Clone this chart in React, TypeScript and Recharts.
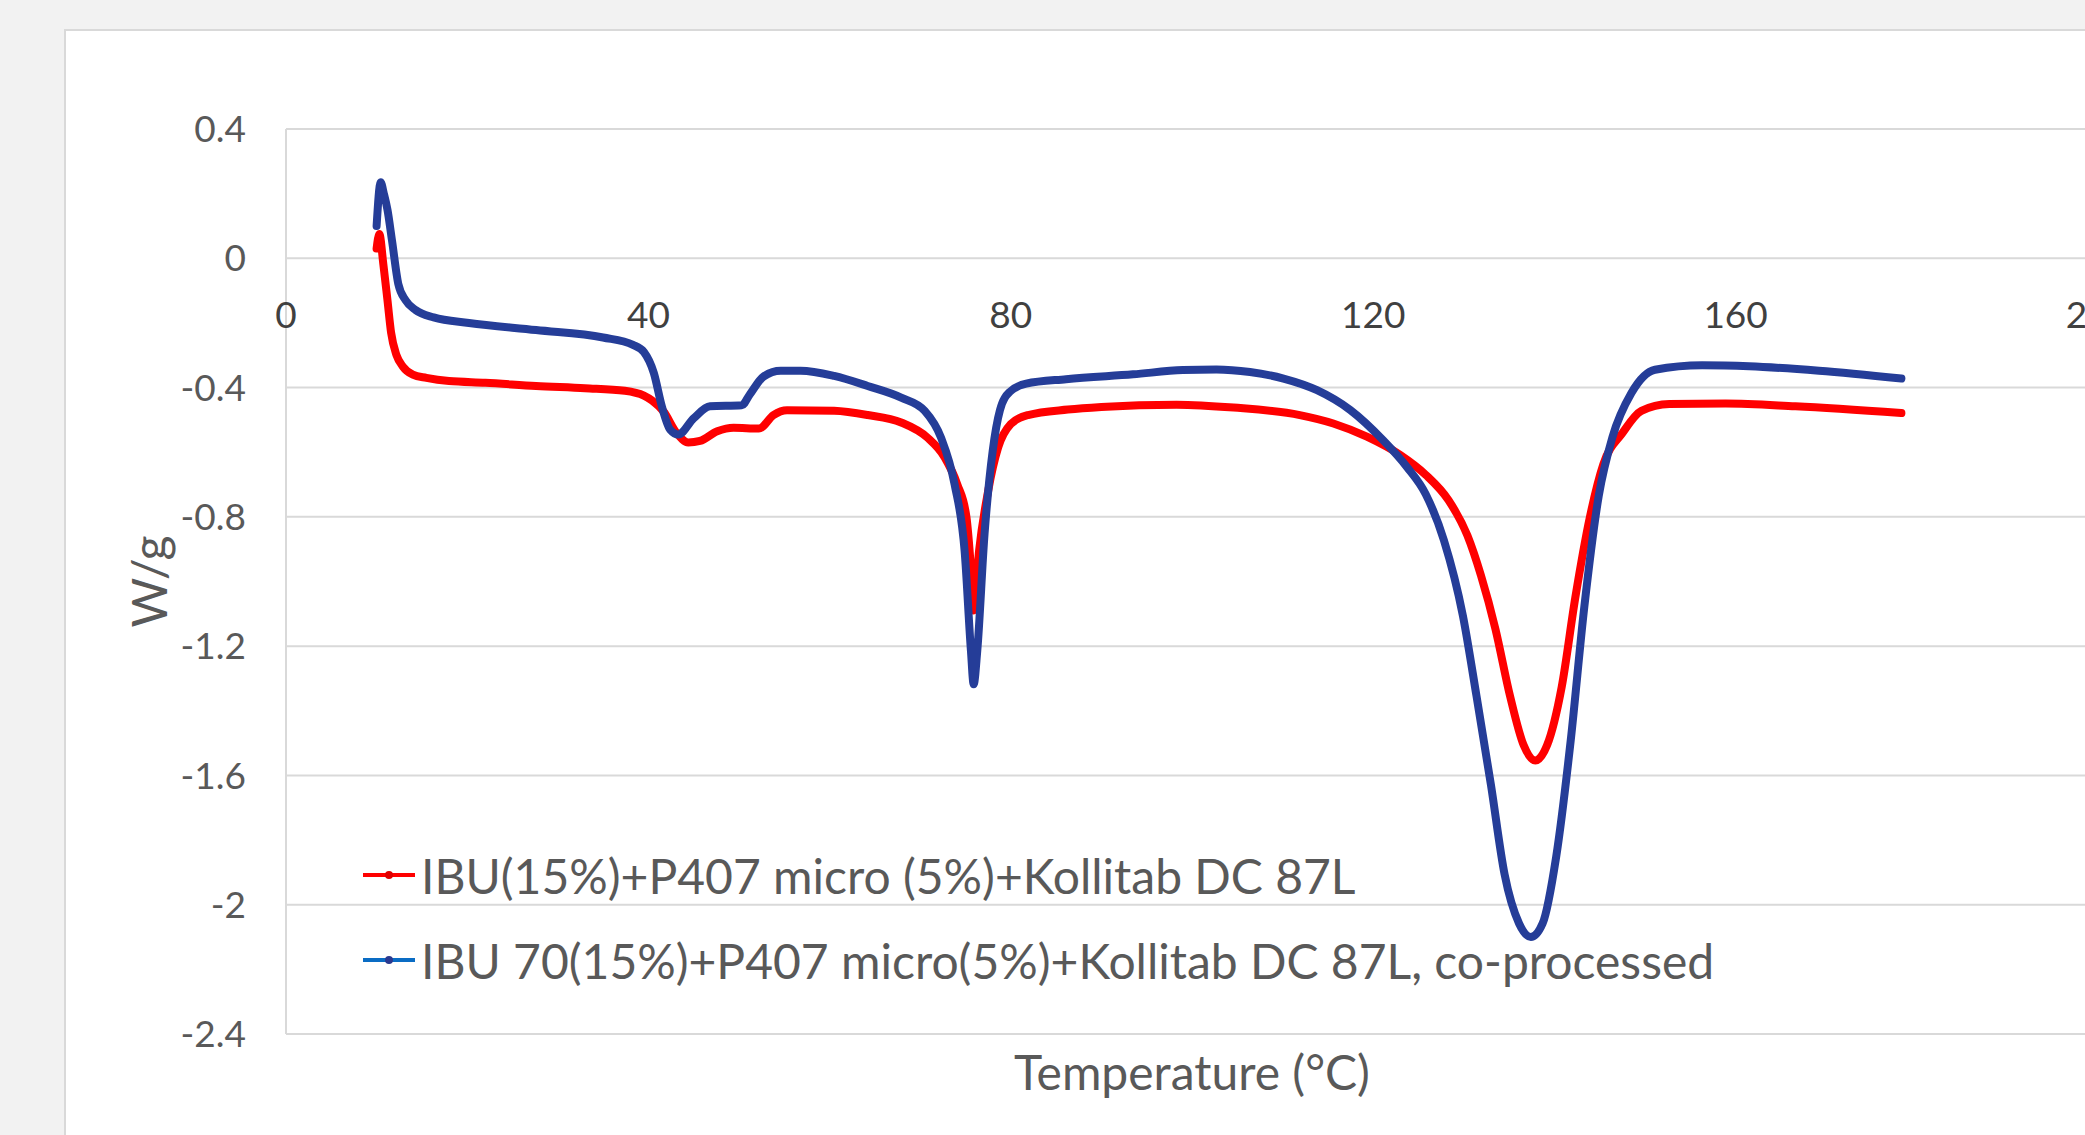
import React from "react";
import {
  LineChart,
  Line,
  XAxis,
  YAxis,
  CartesianGrid,
  ReferenceDot,
  Legend,
} from "recharts";

// DSC heat flow curves
const redTemp = [
  10.0, 10.3, 10.75, 11.2, 11.6, 12.2, 12.9, 14, 15.5, 18, 22, 27.6, 33, 37.4,
  39.5, 40.4, 41.7, 43.1, 44.4, 45.7, 47.6, 49.4, 52.2, 53.8, 55.3, 60.5, 64.2,
  67.9, 70.8, 72.7, 74.1, 75.1, 75.6, 75.9, 76.5, 77.5, 78.6, 80, 81.9, 86.3,
  90, 98.3, 104.6, 111.9, 115.6, 119.3, 123, 125.8, 128.3, 130.4, 131.9, 133.5,
  135.1, 136.6, 137.9, 139.2, 140.8, 142.3, 143.9, 145.4, 147.5, 149.6, 152.7,
  158.9, 166.6, 178.3,
];
const redFlow = [
  0.03, 0.075, -0.02, -0.13, -0.23, -0.3, -0.335, -0.36, -0.37, -0.38, -0.385,
  -0.395, -0.402, -0.41, -0.425, -0.44, -0.475, -0.54, -0.57, -0.565, -0.535,
  -0.524, -0.527, -0.485, -0.47, -0.472, -0.485, -0.508, -0.555, -0.616, -0.7,
  -0.8, -0.96, -1.09, -0.905, -0.72, -0.586, -0.513, -0.485, -0.468, -0.46,
  -0.453, -0.462, -0.485, -0.511, -0.552, -0.609, -0.67, -0.748, -0.858,
  -0.982, -1.148, -1.354, -1.506, -1.554, -1.506, -1.327, -1.051, -0.803,
  -0.637, -0.541, -0.472, -0.451, -0.449, -0.458, -0.479,
];

const blueTemp = [
  10.0, 10.45, 10.8, 11.2, 11.7, 12.4, 13.2, 14.3, 16.3, 20.2, 27.6, 35, 38.3,
  39.5, 40.6, 41.5, 42.4, 43.3, 45, 46.8, 50.3, 51.2, 52.7, 54.6, 56.8, 60.5,
  64.2, 67.9, 70.5, 72.3, 73.8, 74.9, 75.6, 75.9, 76.3, 77.1, 78, 78.8, 79.9,
  81.7, 86.1, 93.5, 99, 102.7, 106.4, 110.1, 113.8, 117.5, 121.1, 123.7, 125.8,
  127.8, 129.9, 131.4, 133, 134.5, 136.1, 137.4, 138.7, 140.2, 141.8, 143.3,
  144.9, 146.4, 148.5, 151.1, 156.3, 161.5, 169.2, 178.3,
];
const blueFlow = [
  0.1, 0.235, 0.2, 0.15, 0.055, -0.08, -0.13, -0.16, -0.183, -0.2, -0.222,
  -0.245, -0.268, -0.29, -0.355, -0.46, -0.53, -0.545, -0.495, -0.458, -0.455,
  -0.421, -0.366, -0.348, -0.348, -0.364, -0.395, -0.431, -0.472, -0.555, -0.7,
  -0.905, -1.214, -1.318, -1.214, -0.854, -0.596, -0.47, -0.413, -0.388,
  -0.374, -0.359, -0.346, -0.344, -0.352, -0.372, -0.408, -0.47, -0.563,
  -0.645, -0.73, -0.872, -1.106, -1.354, -1.63, -1.906, -2.058, -2.1, -2.058,
  -1.851, -1.492, -1.079, -0.734, -0.554, -0.417, -0.345, -0.331, -0.334,
  -0.348, -0.372,
];

const xTicks = [0, 40, 80, 120, 160, 200];
const yTicks = [0.4, 0, -0.4, -0.8, -1.2, -1.6, -2, -2.4];
const seriesNames = [
  "IBU(15%)+P407 micro (5%)+Kollitab DC 87L",
  "IBU 70(15%)+P407 micro(5%)+Kollitab DC 87L, co-processed",
];

const redData = redTemp.map((t, i) => ({ temp: t, flow: redFlow[i] }));
const blueData = blueTemp.map((t, i) => ({ temp: t, flow: blueFlow[i] }));

const FONT = "Lato, Carlito, 'Open Sans', sans-serif";

// x tick labels sit under the zero line, Excel style
const XTickLabel = (props: any) => {
  const { viewBox, value } = props;
  return (
    <text
      x={viewBox.x}
      y={viewBox.y + 55}
      textAnchor="middle"
      dominantBaseline="central"
      fill="#404040"
      fontSize={37}
      fontFamily={FONT}
    >
      {value}
    </text>
  );
};

const YTitle = (props: any) => {
  const { viewBox } = props;
  const cx = viewBox.x + 148;
  const cy = viewBox.y + viewBox.height / 2;
  return (
    <text
      x={cx}
      y={cy}
      transform={`rotate(-90, ${cx}, ${cy})`}
      textAnchor="middle"
      dominantBaseline="central"
      fill="#595959"
      fontSize={48}
      fontFamily={FONT}
    >
      W/g
    </text>
  );
};

const XTitle = (props: any) => {
  const { viewBox } = props;
  return (
    <text
      x={viewBox.x + viewBox.width / 2}
      y={viewBox.y + 56}
      textAnchor="middle"
      fill="#595959"
      fontSize={48}
      fontFamily={FONT}
    >
      Temperature (°C)
    </text>
  );
};

const LegendBox = () => {
  const rows = [
    { name: seriesNames[0], line: "#ff0000", dot: "#e00000", y: 45 },
    { name: seriesNames[1], line: "#0a6cc4", dot: "#2b3990", y: 130 },
  ];
  return (
    <svg width={1500} height={170}>
      {rows.map((r) => (
        <g key={r.name}>
          <line x1={0} x2={52} y1={r.y} y2={r.y} stroke={r.line} strokeWidth={4} />
          <circle cx={26} cy={r.y} r={4} fill={r.dot} />
          <text
            x={58}
            y={r.y}
            dominantBaseline="central"
            fill="#595959"
            fontSize={48}
            fontFamily={FONT}
          >
            {r.name}
          </text>
        </g>
      ))}
    </svg>
  );
};

export default function App() {
  return (
    <div
      style={{
        position: "absolute",
        left: 0,
        top: 0,
        width: 2085,
        height: 1135,
        background: "#f2f2f2",
        overflow: "hidden",
        fontFamily: FONT,
      }}
    >
      <div
        style={{
          position: "absolute",
          left: 64,
          top: 29,
          width: 2200,
          height: 1200,
          background: "#ffffff",
          border: "2px solid #d9d9d9",
        }}
      />
      <div style={{ position: "absolute", left: 0, top: 0 }}>
        <LineChart
          width={2200}
          height={1135}
          margin={{ top: 129, right: 102, bottom: 0, left: 0 }}
        >
          <CartesianGrid vertical={false} stroke="#d9d9d9" strokeWidth={2} />
          <XAxis
            dataKey="temp"
            type="number"
            domain={[0, 200]}
            ticks={xTicks}
            allowDataOverflow
            height={101}
            axisLine={false}
            tickLine={false}
            tick={false}
            label={{ content: XTitle }}
          />
          <YAxis
            type="number"
            domain={[-2.4, 0.4]}
            ticks={yTicks}
            interval={0}
            allowDataOverflow
            width={286}
            axisLine={{ stroke: "#d9d9d9", strokeWidth: 2 }}
            tickLine={false}
            tickSize={0}
            tickMargin={40}
            tick={{ fill: "#595959", fontSize: 37, fontFamily: FONT }}
            label={{ content: YTitle }}
          />
          {xTicks.map((t) => (
            <ReferenceDot
              key={t}
              x={t}
              y={0}
              r={0}
              fill="none"
              stroke="none"
              label={{ value: t, content: XTickLabel }}
            />
          ))}
          <Line
            data={redData}
            dataKey="flow"
            name={seriesNames[0]}
            type="monotone"
            stroke="#ff0000"
            strokeWidth={8}
            strokeLinecap="round"
            strokeLinejoin="round"
            dot={false}
            activeDot={false}
            isAnimationActive={false}
          />
          <Line
            data={blueData}
            dataKey="flow"
            name={seriesNames[1]}
            type="monotone"
            stroke="#253d98"
            strokeWidth={8}
            strokeLinecap="round"
            strokeLinejoin="round"
            dot={false}
            activeDot={false}
            isAnimationActive={false}
          />
          <Legend
            layout="vertical"
            align="center"
            verticalAlign="middle"
            wrapperStyle={{ left: 363, top: 830, width: 1500, height: 170 }}
            content={LegendBox}
          />
        </LineChart>
      </div>
    </div>
  );
}
